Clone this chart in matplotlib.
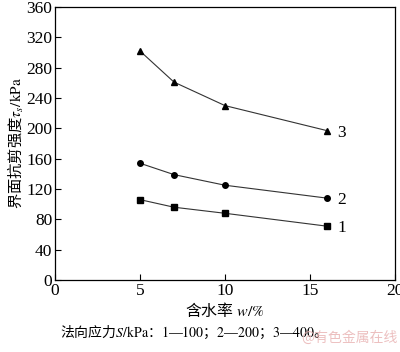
import matplotlib
matplotlib.use('Agg')
import matplotlib.pyplot as plt

plt.rcParams['font.family'] = ['Liberation Serif', 'Noto Sans CJK SC']
plt.rcParams['mathtext.fontset'] = 'stix'
CJK = 'Noto Sans CJK SC'

# water content w / %
water = [5, 7, 10, 16]
# interface shear strength (kPa) for normal stress 100 / 200 / 400 kPa
s100 = [106, 96, 88, 71]
s200 = [154, 139, 125, 108]
s400 = [302, 261, 230, 197]
series = [('1', s100, 's'), ('2', s200, 'o'), ('3', s400, '^')]

fig = plt.figure(figsize=(4.0, 3.52), dpi=100)
ax = fig.add_axes([0.1375, 0.2045, 0.85, 0.7755])

for name, vals, mk in series:
    ax.plot(water, vals, color='#333333', linewidth=0.8, marker=mk,
            markersize=4, markerfacecolor='black', markeredgecolor='black')
    ax.text(water[-1] + 0.6, vals[-1] - 3, name, fontsize=12.5, va='center', ha='left')

ax.set_xlim(0, 20)
ax.set_ylim(0, 360)
ax.set_xticks([0, 5, 10, 15, 20])
ax.set_yticks(range(0, 361, 40))
ax.tick_params(direction='in', length=4, width=0.8, labelsize=12.5, pad=2,
               top=False, right=False)
for sp in ax.spines.values():
    sp.set_linewidth(0.9)

ax.set_xlabel('含水率 $w\\mathrm{/\\%}$', fontsize=11.5, family=CJK, labelpad=2)
ax.set_ylabel('界面抗剪强度$\\tau_s\\mathrm{/kPa}$', fontsize=11, family=CJK, labelpad=0)

fig.text(0.15, 0.055,
         '法向应力$S\\mathrm{/kPa}$：$\\mathrm{1—100}$；$\\mathrm{2—200}$；$\\mathrm{3—400}$。',
         ha='left', va='center', fontsize=10, family=CJK)
fig.text(0.995, 0.04, '@有色金属在线', ha='right', va='center', fontsize=10,
         family=CJK, color='#e8b0b0', alpha=0.8)

fig.savefig('out.png', dpi=100)
